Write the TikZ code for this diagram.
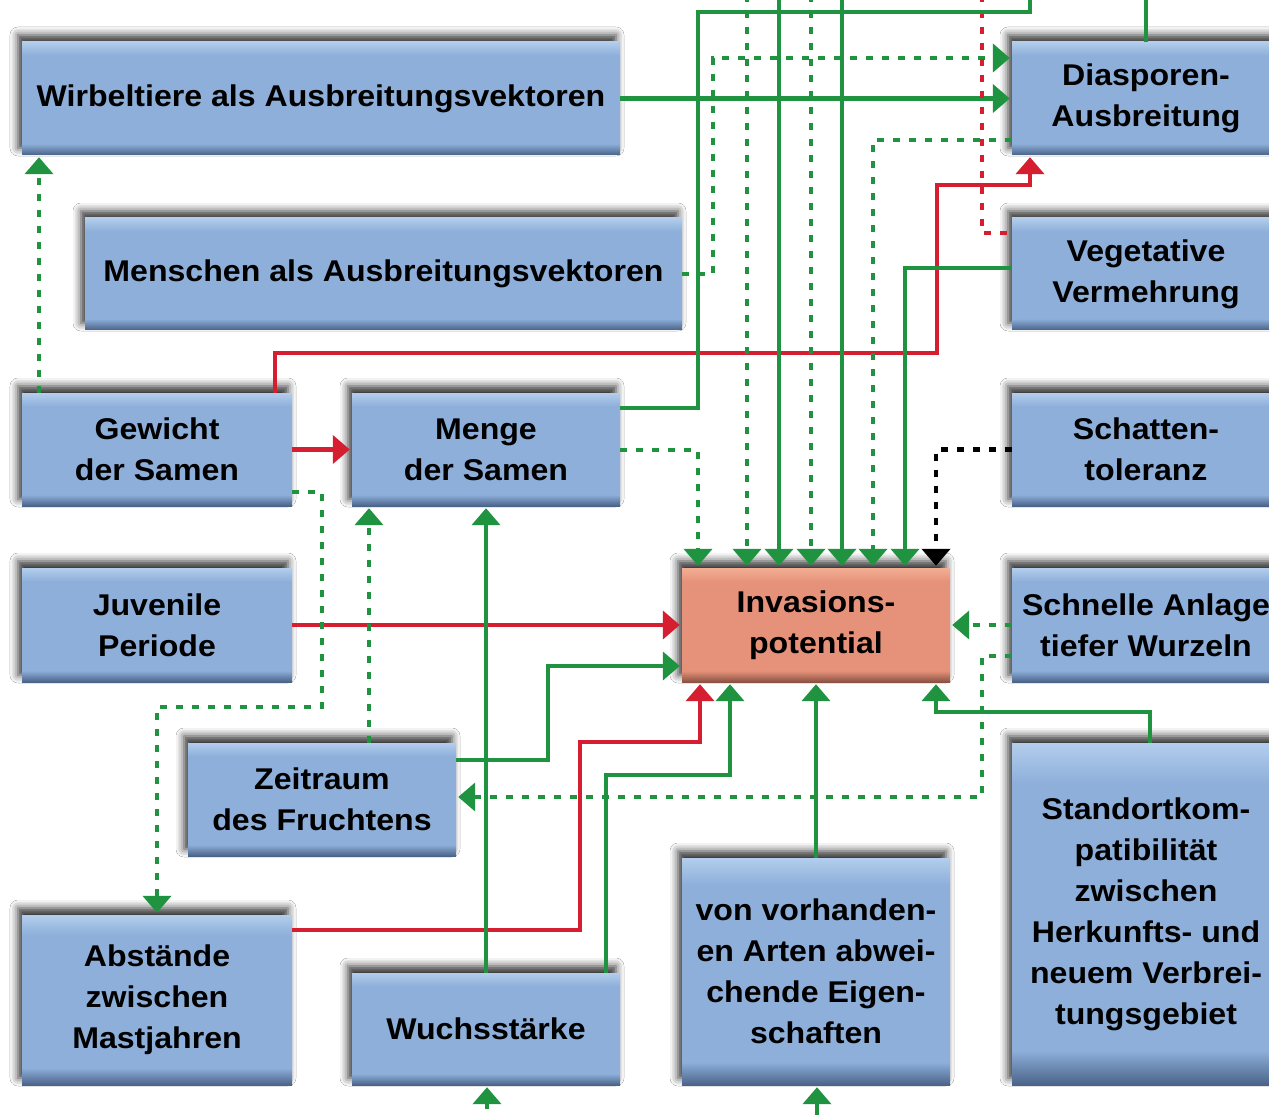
\documentclass[tikz,border=0pt]{standalone}
\usepackage{fontspec}
\setmainfont{Liberation Sans}[FakeStretch=1.07]
\usepackage{tikz}
\usetikzlibrary{arrows.meta,shadows.blur}

\definecolor{boxtop}{HTML}{B3CDEC}
\definecolor{boxmid}{HTML}{8DAFDA}
\definecolor{boxbot}{HTML}{4A6388}
\definecolor{hottop}{HTML}{F2AE94}
\definecolor{hotmid}{HTML}{E6927A}
\definecolor{hotbot}{HTML}{8A5242}
\definecolor{lgreen}{HTML}{1F9340}
\definecolor{lred}{HTML}{D51F30}

\pgfdeclareverticalshading{boxshade}{100bp}{color(0bp)=(boxbot); color(25bp)=(boxbot); color(30bp)=(boxmid); color(69bp)=(boxmid); color(75bp)=(boxtop); color(100bp)=(boxtop)}
\pgfdeclareverticalshading{hotshade}{100bp}{color(0bp)=(hotbot); color(25bp)=(hotbot); color(30bp)=(hotmid); color(69bp)=(hotmid); color(75bp)=(hottop); color(100bp)=(hottop)}

\tikzset{
	box/.style={rectangle, inner sep=0pt, align=center, shading=boxshade,
		blur shadow={shadow xshift=-4pt, shadow yshift=7pt, shadow blur radius=8pt, shadow opacity=80},
		font=\fontsize{30}{41}\selectfont\bfseries,
		minimum width=268pt, minimum height=113pt},
	hot/.style={box, shading=hotshade},
	gline/.style={draw=lgreen, line width=4.6pt},
	gdot/.style={gline, dash pattern=on 7pt off 9pt},
	rline/.style={draw=lred, line width=4.6pt},
	rdot/.style={rline, dash pattern=on 7pt off 9pt},
	kdot/.style={draw=black, line width=4.6pt, dash pattern=on 7pt off 9pt},
	arr/.style={-{Triangle[width=28pt,length=17pt]}, shorten >=2pt}
}

\begin{document}
\begin{tikzpicture}[x=1pt,y=-1pt]
	\useasboundingbox (0,0) rectangle (1269,1115);
	\clip (0,0) rectangle (1269,1115);
	\fill[white] (0,0) rectangle (1269,1115);

	% boxes
	\node[box, minimum width=598pt] (wirbel) at (321,98.5) {Wirbeltiere als Ausbreitungsvektoren};
	\node[box, minimum width=597pt, minimum height=112pt] (menschen) at (383.5,274) {Menschen als Ausbreitungsvektoren};
	\node[box] (diasp) at (1146,98.5) {Diasporen-\\Ausbreitung};
	\node[box, minimum height=112pt] (veget) at (1146,274) {Vegetative\\Vermehrung};
	\node[box, minimum width=270pt] (gewicht) at (157,449.5) {Gewicht\\der Samen};
	\node[box] (menge) at (486,449.5) {Menge\\der Samen};
	\node[box] (schatten) at (1146,449.5) {Schatten-\\toleranz};
	\node[box, minimum width=270pt, minimum height=114pt] (juvenil) at (157,625) {Juvenile\\Periode};
	\node[hot, minimum height=114pt] (invasion) at (816,625) {Invasions-\\potential};
	\node[box, minimum height=114pt] (schnell) at (1146,625) {Schnelle Anlage\\tiefer Wurzeln};
	\node[box] (zeitraum) at (322,799.5) {Zeitraum\\des Fruchtens};
	\node[box, minimum height=342pt] (standort) at (1146,914) {Standortkom-\\patibilität\\zwischen\\Herkunfts- und\\neuem Verbrei-\\tungsgebiet};
	\node[box, minimum width=270pt, minimum height=170pt] (abstaende) at (157,1000) {Abstände\\zwischen\\Mastjahren};
	\node[box, minimum height=112pt] (wuchs) at (486,1029) {Wuchsstärke};
	\node[box, minimum height=227pt] (vorhanden) at (816,971.5) {von vorhanden-\\en Arten abwei-\\chende Eigen-\\schaften};

	% connectors to the dispersal box
	\draw[gline,arr] (wirbel) -- (diasp);
	\draw[gdot,arr] (menschen.east) -| (713,58) -- (diasp.west |- 0,58);
	\draw[rline,arr] (gewicht.north -| 275,0) |- (937,353) |- (1030,185) -- (diasp.south -| 1030,0);
	\draw[gline] (1146,-5) -- (diasp.north);
	\draw[rdot] (982,-5) |- (veget.west |- 0,233);
	\draw[gline] (menge.east |- 0,408) -| (698,12) -- (1030,12) -- (1030,-5);

	% connectors into the invasion box, from above
	\draw[gdot,arr] (menge.east |- 0,450) -| (invasion.north -| 698,0);
	\foreach \x/\s in {747/gdot,779/gline,811/gdot,842/gline}
		\draw[\s,arr] (\x,-5) -- (invasion.north -| \x,0);
	\draw[gdot,arr] (diasp.west |- 0,140) -| (invasion.north -| 873,0);
	\draw[gline,arr] (veget.west |- 0,268) -| (invasion.north -| 905,0);
	\draw[kdot,arr] (schatten.west) -| (invasion.north -| 936,0);

	% from the sides and below
	\draw[rline,arr] (juvenil) -- (invasion);
	\draw[gdot,arr] (schnell) -- (invasion);
	\draw[gdot,arr] (schnell.west |- 0,656) -| (982,797) -- (zeitraum.east |- 0,797);
	\draw[gline,arr] (zeitraum.east |- 0,760) -| (548,666) -- (invasion.west |- 0,666);
	\draw[gline,arr] (standort.north -| 1150,0) |- (936,712) -- (invasion.south -| 936,0);
	\draw[gline,arr] (vorhanden) -- (invasion);
	\draw[gline,arr] (wuchs.north -| 606,0) |- (730,775) -- (invasion.south -| 730,0);
	\draw[rline,arr] (abstaende.east |- 0,930) -| (580,742) -| (invasion.south -| 700,0);

	% seed weight and amount
	\draw[rline,arr] (gewicht) -- (menge);
	\draw[gdot,arr] (gewicht.north -| 39,0) -- (wirbel.south -| 39,0);
	\draw[gdot,arr] (gewicht.east |- 0,492) -| (322,707) -| (abstaende.north);
	\draw[gdot,arr] (zeitraum.north -| 369,0) -- (menge.south -| 369,0);
	\draw[gline,arr] (wuchs) -- (menge);

	% incoming from below
	\draw[gdot,arr] (487,1125) -- (wuchs.south -| 487,0);
	\draw[gline,arr] (817,1125) -- (vorhanden.south -| 817,0);
\end{tikzpicture}
\end{document}
